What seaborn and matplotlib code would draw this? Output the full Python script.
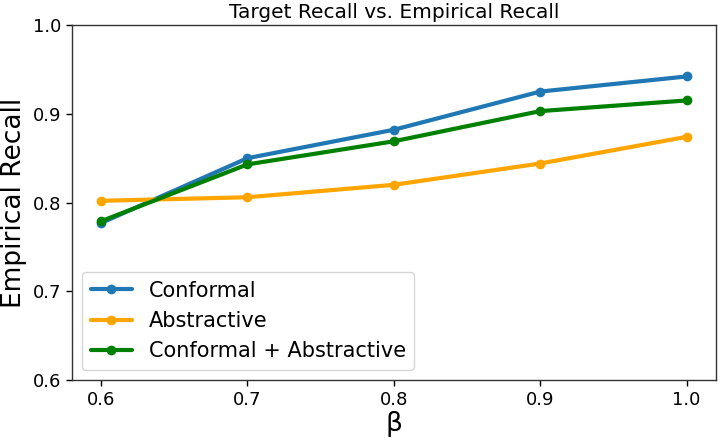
import seaborn as sns
import matplotlib.pyplot as plt
import pandas as pd

sns.set_style("white")
plt.rcParams["text.color"] = "black"
plt.rcParams["axes.labelcolor"] = "black"
plt.rcParams["xtick.color"] = "black"
plt.rcParams["ytick.color"] = "black"

beta = [0.6, 0.7, 0.8, 0.9, 1.0]
conformal = [0.777, 0.850, 0.882, 0.925, 0.942]
abstractive = [0.802, 0.806, 0.820, 0.844, 0.874]
combined = [0.779, 0.843, 0.869, 0.903, 0.915]

series = {"Conformal": conformal, "Abstractive": abstractive,
          "Conformal + Abstractive": combined}
colors = {"Conformal": "#1f77b4", "Abstractive": "orange",
          "Conformal + Abstractive": "green"}

df = pd.concat([pd.DataFrame({"beta": beta, "recall": v, "method": k})
                for k, v in series.items()])

fig, ax = plt.subplots(figsize=(7.18, 4.38), dpi=100)
for name in series:
    d = df[df.method == name]
    sns.lineplot(data=d, x="beta", y="recall", ax=ax, label=name,
                 color=colors[name], linewidth=3, marker="o",
                 markersize=7, markeredgewidth=0)

ax.set_ylim(0.6, 1.0)
ax.set_xticks(beta)
ax.set_yticks([0.6, 0.7, 0.8, 0.9, 1.0])
ax.tick_params(axis="both", labelsize=13, length=4, width=1, left=True, bottom=True)
ax.set_xlabel("β", fontsize=19, labelpad=2)
ax.set_ylabel("Empirical Recall", fontsize=19)
ax.set_title("Target Recall vs. Empirical Recall", fontsize=14.5, pad=5)
for s in ax.spines.values():
    s.set_color("#333333")
    s.set_linewidth(1)
ax.legend(loc="lower left", fontsize=15, frameon=True)

plt.subplots_adjust(left=0.1, right=0.997, top=0.943, bottom=0.132)
plt.savefig("out.png", dpi=100)
